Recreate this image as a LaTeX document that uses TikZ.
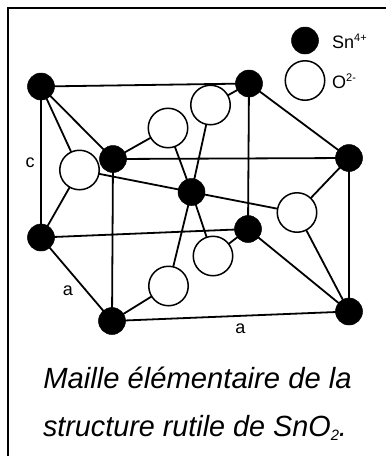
\documentclass[tikz,border=0pt]{standalone}
\usepackage{fontspec}
\setmainfont{Liberation Sans}
\newcommand{\labsup}[1]{\raisebox{6.5pt}{\fontsize{11pt}{12pt}\selectfont #1}}
\newcommand{\capsub}[1]{\raisebox{-4pt}{\fontsize{15pt}{18pt}\selectfont #1}}
\tikzset{
 sn/.style={circle,fill=black,draw=black,line width=0.5pt,minimum size=27pt,inner sep=0pt},
 ox/.style={circle,fill=white,draw=black,line width=1.5pt,minimum size=39.5pt,inner sep=0pt},
 bond/.style={line width=1.8pt,draw=black},
 lab/.style={inner sep=0pt,font=\fontsize{18pt}{20pt}\selectfont,text=black},
 captxt/.style={inner sep=0pt,font=\fontsize{29.2pt}{34pt}\selectfont\itshape,text=black},
}
\begin{document}
\begin{tikzpicture}[x=1pt,y=-1pt]
\useasboundingbox (0,0) rectangle (386,456);
\fill[white] (0,0) rectangle (386,456);
\draw[line width=2.2pt] (8,456) -- (8,8) -- (386,8);
\coordinate (nA) at (41,86.5);
\coordinate (nB) at (249,83.5);
\coordinate (nC) at (113,159);
\coordinate (nD) at (349,158);
\coordinate (nE) at (191.5,192);
\coordinate (nF) at (41,237.5);
\coordinate (nG) at (248,229);
\coordinate (nH) at (112,321);
\coordinate (nI) at (349,311.5);
\coordinate (o1) at (79.5,170);
\coordinate (o2) at (168,128);
\coordinate (o3) at (210.5,105);
\coordinate (o4) at (297,212.5);
\coordinate (o5) at (213,256);
\coordinate (o6) at (168.5,286);
\draw[bond] (nA)--(nB) (nA)--(nC) (nA)--(o1) (nA)--(nF)
 (nB)--(o3) (o3)--(nE) (o2)--(nC) (o2)--(nE) (nB)--(nG) (nB)--(nD)
 (nC)--(nD) (nC)--(nH) (o1)--(nE) (o1)--(nF) (nD)--(o4) (nD)--(nI)
 (nE)--(o4) (nE)--(o5) (o5)--(nG) (nE)--(o6) (o6)--(nH)
 (nF)--(nG) (nF)--(nH) (nG)--(nI) (o4)--(nI) (nH)--(nI);
\foreach \p in {o1,o2,o3,o4,o5,o6} \node[ox] (c\p) at (\p) {};
\foreach \p in {nA,nB,nC,nD,nE,nF,nG,nH,nI} \node[sn] (c\p) at (\p) {};
\node[sn] (legsn) at (305,40.5) {};
\node[ox] (legox) at (305,80.5) {};
\node[lab,anchor=base west] (tsn) at (332,48) {Sn\labsup{4+}};
\node[lab,anchor=base west] (tox) at (332,88) {O\labsup{2-}};
\node[lab,anchor=base] (tc) at (30,167) {c};
\node[lab,anchor=base] (ta1) at (68,295) {a};
\node[lab,anchor=base] (ta2) at (240.5,333) {a};
\node[captxt,anchor=base] (t1) at (197.5,388) {Maille élémentaire de la};
\node[captxt,anchor=base,xscale=0.985] (t2) at (195,436.5) {structure rutile de SnO\capsub{2}.};
\end{tikzpicture}
\end{document}
